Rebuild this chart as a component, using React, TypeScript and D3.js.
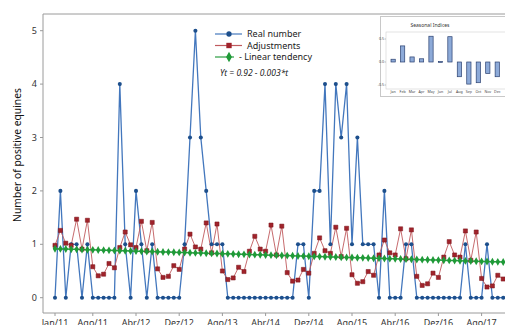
import React from 'react';
import * as d3 from 'd3';

// Monthly counts, Jan/11 .. Dez/17
const realNumber = [
    0, 2, 0, 1, 1, 0, 1, 0, 0, 0, 0, 0,
    4, 1, 0, 2, 1, 0, 1, 0, 0, 0, 0, 0,
    1, 3, 5, 3, 2, 1, 1, 1, 0, 0, 0, 0,
    0, 0, 0, 0, 0, 0, 0, 0, 0, 1, 1, 0,
    2, 2, 4, 1, 4, 3, 4, 1, 3, 1, 1, 1,
    0, 2, 0, 0, 0, 1, 1, 0, 0, 0, 0, 0,
    0, 0, 0, 0, 1, 0, 0, 0, 1, 0, 0, 0,
];

const adjustments = [
    0.98, 1.26, 1.02, 0.98, 1.47, 0.91, 1.45, 0.58, 0.41, 0.44, 0.64, 0.56,
    0.94, 1.23, 0.99, 0.94, 1.43, 0.88, 1.41, 0.54, 0.38, 0.40, 0.60, 0.53,
    0.91, 1.19, 0.95, 0.91, 1.40, 0.84, 1.38, 0.50, 0.34, 0.37, 0.57, 0.49,
    0.87, 1.15, 0.91, 0.87, 1.36, 0.80, 1.34, 0.47, 0.31, 0.33, 0.53, 0.46,
    0.83, 1.12, 0.88, 0.83, 1.32, 0.77, 1.30, 0.43, 0.27, 0.30, 0.49, 0.42,
    0.80, 1.08, 0.84, 0.80, 1.29, 0.73, 1.27, 0.40, 0.23, 0.26, 0.46, 0.38,
    0.76, 1.05, 0.80, 0.76, 1.25, 0.70, 1.23, 0.36, 0.20, 0.22, 0.42, 0.35,
];

const linearTendency = [
    0.917, 0.914, 0.911, 0.908, 0.905, 0.902, 0.899, 0.896, 0.893, 0.890, 0.887, 0.884,
    0.881, 0.878, 0.875, 0.872, 0.869, 0.866, 0.863, 0.860, 0.857, 0.854, 0.851, 0.848,
    0.845, 0.842, 0.839, 0.836, 0.833, 0.830, 0.827, 0.824, 0.821, 0.818, 0.815, 0.812,
    0.809, 0.806, 0.803, 0.800, 0.797, 0.794, 0.791, 0.788, 0.785, 0.782, 0.779, 0.776,
    0.773, 0.770, 0.767, 0.764, 0.761, 0.758, 0.755, 0.752, 0.749, 0.746, 0.743, 0.740,
    0.737, 0.734, 0.731, 0.728, 0.725, 0.722, 0.719, 0.716, 0.713, 0.710, 0.707, 0.704,
    0.701, 0.698, 0.695, 0.692, 0.689, 0.686, 0.683, 0.680, 0.677, 0.674, 0.671, 0.668,
];

const tickLabels = ['Jan/11', 'Ago/11', 'Abr/12', 'Dez/12', 'Ago/13', 'Abr/14', 'Dez/14', 'Ago/15', 'Abr/16', 'Dez/16', 'Ago/17'];
const tickMonths = [0, 7, 15, 23, 31, 39, 47, 55, 63, 71, 79];
const yTicks = [0, 1, 2, 3, 4, 5];

const seasonMonths = ['Jan', 'Feb', 'Mar', 'Apr', 'May', 'Jun', 'Jul', 'Aug', 'Sep', 'Oct', 'Nov', 'Dec'];
const seasonalIndices = [0.06, 0.35, 0.11, 0.07, 0.56, 0.01, 0.55, -0.32, -0.48, -0.45, -0.25, -0.32];
const insetTicks = [0.5, 0, -0.5];

const font = '"Noto Sans", "Open Sans", sans-serif';

// colours
const blueLine = '#4377bd';
const blueDot = '#1d4f8c';
const redLine = '#c05a5e';
const redDot = '#a0232b';
const greenLine = '#2a9c40';
const greenDot = '#1f9a38';
const axisColor = '#9a9a9a';
const textColor = '#333';

const App: React.FC = () => {
    const left = 43;
    const top = 14;
    const bottom = 313;

    const x = d3.scaleLinear().domain([0, 79]).range([55, 481.6]);
    const y = d3.scaleLinear().domain([0, 5]).range([297.7, 30.7]);

    const idx = realNumber.map((_, i) => i);
    const line = (vals: number[]) =>
        d3.line<number>().x((i) => x(i)).y((i) => y(vals[i]))(idx) || '';

    const circle = d3.symbol().type(d3.symbolCircle).size(13)() || '';
    const square = d3.symbol().type(d3.symbolSquare).size(17)() || '';
    const diamond = d3.symbol().type(d3.symbolDiamond).size(18)() || '';

    // inset scales
    const xs = d3.scaleBand().domain(seasonMonths).range([385.8, 504.6]).padding(0.55);
    const ys = d3.scaleLinear().domain([-0.5, 0.5]).range([85, 39]);

    const legend = [
        { label: 'Real number', color: blueLine, dot: blueDot, shape: circle, y: 34 },
        { label: 'Adjustments', color: redLine, dot: redDot, shape: square, y: 45.5 },
        { label: '-  Linear tendency', color: greenLine, dot: greenDot, shape: diamond, y: 57 },
    ];

    return (
        <div style={{ position: 'absolute', left: 0, top: 0, width: 505, height: 325, overflow: 'hidden', background: '#fff' }}>
            <svg width={505} height={325} style={{ display: 'block', fontFamily: font }}>
                {/* frame */}
                <line x1={left} x2={505} y1={top} y2={top} stroke={axisColor} />
                <line x1={left} x2={left} y1={top} y2={bottom} stroke={axisColor} />
                <line x1={left} x2={505} y1={bottom} y2={bottom} stroke={axisColor} />

                {/* y axis */}
                {yTicks.map((t) => (
                    <g key={t}>
                        <line x1={left - 3} x2={left} y1={y(t)} y2={y(t)} stroke={axisColor} />
                        <text x={left - 6} y={y(t)} dy="0.35em" textAnchor="end" fontSize={9} fill={textColor}>
                            {t}
                        </text>
                    </g>
                ))}
                <text transform="translate(21,155) rotate(-90)" textAnchor="middle" fontSize={10.3} fill="#111">
                    Number of positive equines
                </text>

                {/* x axis */}
                {tickMonths.map((m, i) => (
                    <g key={m}>
                        <line x1={x(m)} x2={x(m)} y1={bottom} y2={bottom + 3} stroke={axisColor} />
                        <text x={x(m)} y={325.5} textAnchor="middle" fontSize={9} fill={textColor}>
                            {tickLabels[i]}
                        </text>
                    </g>
                ))}

                {/* series lines */}
                <path d={line(realNumber)} fill="none" stroke={blueLine} strokeWidth={1.3} />
                <path d={line(adjustments)} fill="none" stroke={redLine} strokeWidth={0.9} />
                <path d={line(linearTendency)} fill="none" stroke={greenLine} strokeWidth={1.5} />

                {/* markers */}
                {realNumber.map((v, i) => (
                    <path key={'b' + i} d={circle} transform={`translate(${x(i)},${y(v)})`} fill={blueDot} />
                ))}
                {adjustments.map((v, i) => (
                    <path key={'r' + i} d={square} transform={`translate(${x(i)},${y(v)})`} fill={redDot} stroke="#7a1319" strokeWidth={0.5} />
                ))}
                {linearTendency.map((v, i) => (
                    <path key={'g' + i} d={diamond} transform={`translate(${x(i)},${y(v)})`} fill={greenDot} />
                ))}

                {/* legend */}
                {legend.map((l) => (
                    <g key={l.label}>
                        <line x1={215} x2={l.shape === diamond ? 234 : 242} y1={l.y} y2={l.y} stroke={l.color} strokeWidth={1.2} />
                        <path d={l.shape} transform={`translate(229,${l.y}) scale(1.3)`} fill={l.dot} />
                        <text x={l.shape === diamond ? 239 : 247} y={l.y} dy="0.35em" fontSize={9} fill="#222">
                            {l.label}
                        </text>
                    </g>
                ))}
                <text x={220} y={73.5} dy="0.35em" fontSize={8.5} fontStyle="italic" fill="#222">
                    Yt = 0.92 - 0.003*t
                </text>

                {/* inset: seasonal indices */}
                <rect x={380.5} y={16.5} width={130} height={80} fill="#fff" stroke="#c8c8c8" />
                <text x={430} y={25.5} dy="0.35em" textAnchor="middle" fontSize={5} fill="#333">
                    Seasonal Indices
                </text>
                <rect x={386} y={32} width={125} height={57} fill="none" stroke="#d0d0d0" strokeWidth={0.6} />
                {insetTicks.map((t) => (
                    <g key={t}>
                        <line x1={384.5} x2={386} y1={ys(t)} y2={ys(t)} stroke="#999" strokeWidth={0.6} />
                        <text x={384} y={ys(t)} dy="0.35em" textAnchor="end" fontSize={3.6} fill="#444">
                            {t.toFixed(1)}
                        </text>
                    </g>
                ))}
                {seasonalIndices.map((v, i) => (
                    <rect
                        key={seasonMonths[i]}
                        x={xs(seasonMonths[i])!}
                        width={xs.bandwidth()}
                        y={ys(Math.max(0, v))}
                        height={Math.max(0.8, Math.abs(ys(v) - ys(0)))}
                        fill="#8daad8"
                        stroke="#2b4170"
                        strokeWidth={0.7}
                    />
                ))}
                {seasonMonths.map((m) => (
                    <text key={m} x={xs(m)! + xs.bandwidth() / 2} y={92} dy="0.35em" textAnchor="middle" fontSize={3.6} fill="#444">
                        {m}
                    </text>
                ))}
            </svg>
        </div>
    );
};

export default App;
